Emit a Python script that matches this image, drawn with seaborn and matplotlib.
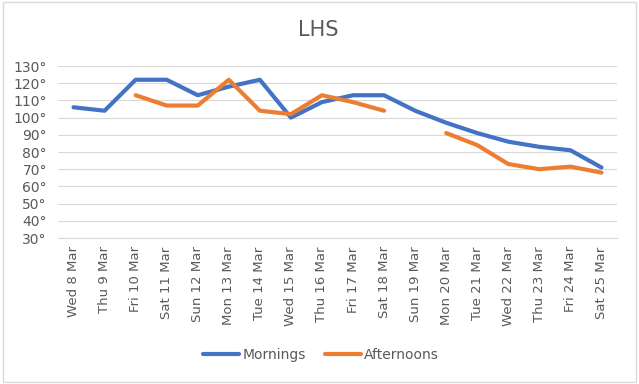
import numpy as np
import pandas as pd
import seaborn as sns
import matplotlib.pyplot as plt
from matplotlib.patches import Rectangle

# ---------------------------------------------   data   ---------------------------------------------
days = ['Wed 8 Mar', 'Thu 9 Mar', 'Fri 10 Mar', 'Sat 11 Mar', 'Sun 12 Mar', 'Mon 13 Mar',
        'Tue 14 Mar', 'Wed 15 Mar', 'Thu 16 Mar', 'Fri 17 Mar', 'Sat 18 Mar', 'Sun 19 Mar',
        'Mon 20 Mar', 'Tue 21 Mar', 'Wed 22 Mar', 'Thu 23 Mar', 'Fri 24 Mar', 'Sat 25 Mar']
mornings = [106, 104, 122, 122, 113, 118, 122, 100, 109, 113, 113, 104,
            97, 91, 86, 83, 81, 71]
afternoons = [np.nan, np.nan, 113, 107, 107, 122, 104, 102, 113, 109, 104, np.nan,
              91, 84, 73, 70, 71.5, 68]
y_ticks = list(range(30, 131, 10))

# ---------------------------------------------   build long frame   ---------------------------------------------
rows = []
for name, vals in [('Mornings', mornings), ('Afternoons', afternoons)]:
    seg = 0
    for i, v in enumerate(vals):
        if np.isnan(v):
            seg += 1
            continue
        rows.append({'pos': i, 'temp': v, 'series': name, 'seg': f'{name}{seg}'})
df = pd.DataFrame(rows)

# ---------------------------------------------   plot   ---------------------------------------------
sns.set_style('white')
plt.rcParams['font.family'] = ['DejaVu Sans']
grey = '#595959'

fig = plt.figure(figsize=(6.39, 3.84), dpi=100)
ax = fig.add_axes([58 / 639, 1 - 238 / 384, (617 - 58) / 639, (238 - 66) / 384])

sns.lineplot(data=df, x='pos', y='temp', hue='series', units='seg', estimator=None,
             palette={'Mornings': '#4472C4', 'Afternoons': '#ED7D31'},
             linewidth=3, ax=ax, legend=True)

ax.set_xlim(-0.5, len(days) - 0.5)
ax.set_ylim(30, 130)
ax.set_yticks(y_ticks)
ax.set_yticklabels([f'{v}°' for v in y_ticks], color=grey, fontsize=10)
ax.set_xticks(range(len(days)))
ax.set_xticklabels(days, rotation=90, color=grey, fontsize=9.5)
ax.set_xticks(np.arange(-0.5, len(days), 1), minor=True)
ax.tick_params(axis='x', which='major', length=0, pad=6)
ax.tick_params(axis='x', which='minor', length=4, color='#d9d9d9', width=0.8)
ax.tick_params(axis='y', length=0, pad=8)
ax.grid(axis='y', color='#d9d9d9', linewidth=0.8)
ax.set_axisbelow(True)
for s in ['top', 'right', 'left']:
    ax.spines[s].set_visible(False)
ax.spines['bottom'].set_color('#d9d9d9')
ax.set_xlabel('')
ax.set_ylabel('')

fig.text(318 / 639, 1 - 30 / 384, 'LHS', ha='center', va='center', fontsize=15, color=grey)

leg = ax.legend(loc='center', bbox_to_anchor=(321 / 639, 1 - 355 / 384),
                bbox_transform=fig.transFigure, ncol=2, frameon=False,
                fontsize=10, handlelength=2.6, handletextpad=0.2, columnspacing=1.4)
for t in leg.get_texts():
    t.set_color(grey)
for h in leg.get_lines():
    h.set_linewidth(3)

fig.patches.append(Rectangle((0.004, 0.004), 0.992, 0.992, transform=fig.transFigure,
                             fill=False, edgecolor='#d9d9d9', linewidth=1))

plt.savefig('out.png', dpi=100)
